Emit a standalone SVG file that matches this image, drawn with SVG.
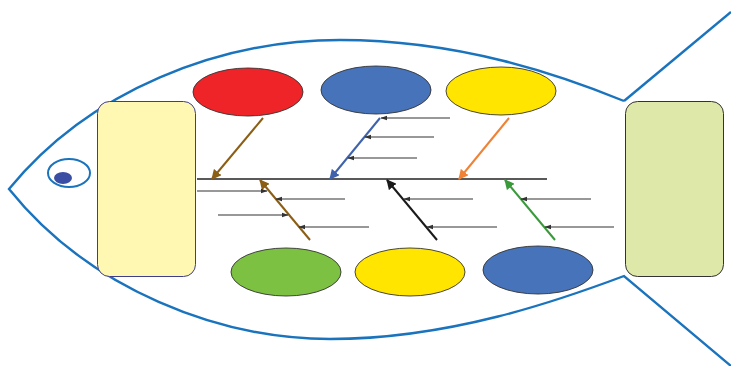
<svg xmlns="http://www.w3.org/2000/svg" width="731" height="366" viewBox="0 0 731 366">
<defs>
<style>
.body{fill:none;stroke:#1a73bd;stroke-width:2.4;stroke-linejoin:miter}
.cat{stroke:#333;stroke-width:0.9}
.box{stroke-width:1}
.bone{fill:none;stroke-width:2}
.sub{fill:none;stroke:#333;stroke-width:1.2}
</style>
<marker id="ah" viewBox="0 0 10 10" refX="9" refY="5" markerWidth="7" markerHeight="7" markerUnits="userSpaceOnUse" orient="auto"><path d="M0,1.5 L10,5 L0,8.5 Z" fill="#333"/></marker>
<marker id="ab" viewBox="0 0 10 10" refX="9" refY="5" markerWidth="10" markerHeight="10" markerUnits="userSpaceOnUse" orient="auto"><path d="M0,0 L10,5 L0,10 Z" fill="#8b5e14"/></marker>
<marker id="abl" viewBox="0 0 10 10" refX="9" refY="5" markerWidth="10" markerHeight="10" markerUnits="userSpaceOnUse" orient="auto"><path d="M0,0 L10,5 L0,10 Z" fill="#3f62ad"/></marker>
<marker id="ao" viewBox="0 0 10 10" refX="9" refY="5" markerWidth="10" markerHeight="10" markerUnits="userSpaceOnUse" orient="auto"><path d="M0,0 L10,5 L0,10 Z" fill="#f08235"/></marker>
<marker id="ak" viewBox="0 0 10 10" refX="9" refY="5" markerWidth="10" markerHeight="10" markerUnits="userSpaceOnUse" orient="auto"><path d="M0,0 L10,5 L0,10 Z" fill="#1a1a1a"/></marker>
<marker id="ag" viewBox="0 0 10 10" refX="9" refY="5" markerWidth="10" markerHeight="10" markerUnits="userSpaceOnUse" orient="auto"><path d="M0,0 L10,5 L0,10 Z" fill="#3a9a3a"/></marker>
</defs>
<rect width="731" height="366" fill="#fff"/>
<g id="fish">
<path class="body" d="M624,101 C560,75 460,40 340,40 C220,40 90,90 9,189 C90,290 220,339 330,339 C450,339 560,300 624,276 L731,366"/>
<path class="body" d="M624,101 L731,12"/>
</g>
<g id="eye">
<ellipse cx="69" cy="173" rx="21" ry="14" fill="#fff" stroke="#1a73bd" stroke-width="2"/>
<ellipse cx="63" cy="178" rx="9" ry="6" fill="#3a4ea3"/>
</g>
<g id="head-box"><rect class="box" x="97.5" y="101.5" width="98" height="175" rx="12" fill="#fff8b2" stroke="#3e3e8c"/></g>
<g id="tail-box"><rect class="box" x="625.5" y="101.5" width="98" height="175" rx="12" fill="#dde8a9" stroke="#333"/></g>
<g id="connectors">
<line x1="197" y1="179" x2="547" y2="179" stroke="#222" stroke-width="1.3"/>
<line class="bone" x1="263" y1="118" x2="212" y2="179" stroke="#8b5e14" marker-end="url(#ab)"/>
<line class="bone" x1="380" y1="118" x2="330" y2="179" stroke="#3f62ad" marker-end="url(#abl)"/>
<line class="bone" x1="509" y1="118" x2="459" y2="179" stroke="#f08235" marker-end="url(#ao)"/>
<line class="bone" x1="310" y1="240" x2="260" y2="180" stroke="#8b5e14" marker-end="url(#ab)"/>
<line class="bone" x1="437" y1="240" x2="387" y2="180" stroke="#1a1a1a" marker-end="url(#ak)"/>
<line class="bone" x1="555" y1="240" x2="505" y2="180" stroke="#3a9a3a" marker-end="url(#ag)"/>
<line class="sub" x1="450" y1="118" x2="381" y2="118" marker-end="url(#ah)"/>
<line class="sub" x1="434" y1="137" x2="365" y2="137" marker-end="url(#ah)"/>
<line class="sub" x1="417" y1="158" x2="348" y2="158" marker-end="url(#ah)"/>
<line class="sub" x1="197" y1="191" x2="267" y2="191" marker-end="url(#ah)"/>
<line class="sub" x1="345" y1="199" x2="276" y2="199" marker-end="url(#ah)"/>
<line class="sub" x1="218" y1="215" x2="288" y2="215" marker-end="url(#ah)"/>
<line class="sub" x1="369" y1="227" x2="299" y2="227" marker-end="url(#ah)"/>
<line class="sub" x1="473" y1="199" x2="404" y2="199" marker-end="url(#ah)"/>
<line class="sub" x1="497" y1="227" x2="427" y2="227" marker-end="url(#ah)"/>
<line class="sub" x1="591" y1="199" x2="521" y2="199" marker-end="url(#ah)"/>
<line class="sub" x1="614" y1="227" x2="545" y2="227" marker-end="url(#ah)"/>
</g>
<g id="cause-red"><ellipse class="cat" cx="248" cy="92" rx="55" ry="24" fill="#ee2428"/></g>
<g id="cause-blue-top"><ellipse class="cat" cx="376" cy="90" rx="55" ry="24" fill="#4673b9"/></g>
<g id="cause-yellow-top"><ellipse class="cat" cx="501" cy="91" rx="55" ry="24" fill="#ffe500"/></g>
<g id="cause-green"><ellipse class="cat" cx="286" cy="272" rx="55" ry="24" fill="#7dc142"/></g>
<g id="cause-yellow-bottom"><ellipse class="cat" cx="410" cy="272" rx="55" ry="24" fill="#ffe500"/></g>
<g id="cause-blue-bottom"><ellipse class="cat" cx="538" cy="270" rx="55" ry="24" fill="#4673b9"/></g>
</svg>
